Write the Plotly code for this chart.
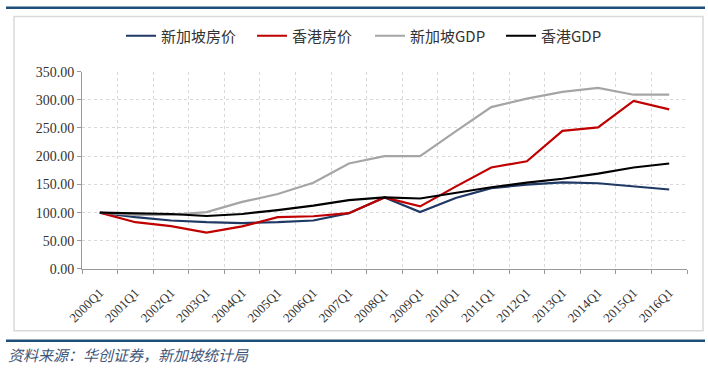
import plotly.graph_objects as go

categories = ["2000Q1", "2001Q1", "2002Q1", "2003Q1", "2004Q1", "2005Q1", "2006Q1",
              "2007Q1", "2008Q1", "2009Q1", "2010Q1", "2011Q1", "2012Q1", "2013Q1",
              "2014Q1", "2015Q1", "2016Q1"]
sg_house = [100, 92, 86, 83, 81.5, 83, 86, 99, 127, 101, 126, 143.5, 149.5, 153.5, 152, 146, 141]
hk_house = [100, 83, 76, 64.5, 75.5, 92, 93.5, 99, 127, 111, 146, 180, 191, 245, 251, 298, 283]
sg_gdp = [100, 96, 96, 101, 119, 133, 153, 187, 200, 200, 244, 287, 302, 314, 321, 309, 309]
hk_gdp = [100, 99, 97.5, 94, 97.5, 104.5, 112.5, 122, 127, 125, 135, 145, 153, 160, 169, 180, 187]

y_ticks = [0, 50, 100, 150, 200, 250, 300, 350]
series_names = ["新加坡房价", "香港房价", "新加坡GDP", "香港GDP"]
series_colors = ["#1F3864", "#C00000", "#A5A5A5", "#000000"]
source_text = "资料来源：华创证券，新加坡统计局"

W, H = 708, 368
L, R, T, B = 82, 21, 68, 99
PW, PH = W - L - R, H - T - B


def px(x):
    return (x - L) / PW


def py(y):
    return (H - B - y) / PH


legend_ids = ["legend", "legend2", "legend3", "legend4"]
legend_left_px = [121, 252, 370, 501]

fig = go.Figure()
for name, vals, col, lid in zip(series_names, [sg_house, hk_house, sg_gdp, hk_gdp],
                                series_colors, legend_ids):
    fig.add_trace(go.Scatter(x=categories, y=vals, name=name, mode="lines",
                             line=dict(color=col, width=2.2), legend=lid))

tick_font = dict(family="Liberation Serif", size=14, color="#333333")
legend_font = dict(family="Noto Sans CJK SC", size=15, color="#333333")

legend_layout = {}
for lid, lx in zip(legend_ids, legend_left_px):
    legend_layout[lid] = dict(orientation="h", xref="container", yref="container",
                              x=lx / W, xanchor="left", y=1 - 36 / H, yanchor="middle",
                              font=legend_font, bgcolor="rgba(0,0,0,0)", itemwidth=30)

fig.update_layout(
    width=W, height=H,
    margin=dict(l=L, r=R, t=T, b=B),
    paper_bgcolor="white", plot_bgcolor="white",
    showlegend=True,
    xaxis=dict(type="category", range=[-0.5, 16.5], tickson="boundaries",
               ticks="outside", ticklen=4, tickcolor="#999999",
               showline=True, linecolor="#999999", linewidth=1,
               showgrid=True, gridcolor="#d9d9d9", griddash="dot", gridwidth=1,
               tickangle=-45, tickfont=dict(family="Liberation Serif", size=13, color="#333333"),
               ticklabelstandoff=10, zeroline=False),
    yaxis=dict(range=[0, 350], tickvals=y_ticks, tickformat=".2f",
               ticks="outside", ticklen=4, tickcolor="#999999",
               showline=True, linecolor="#999999", linewidth=1,
               showgrid=True, gridcolor="#d9d9d9", griddash="dot", gridwidth=1,
               tickfont=tick_font, zeroline=False),
    **legend_layout,
)

shapes = [
    dict(type="rect", xref="paper", yref="paper", x0=px(14), x1=px(703), y0=py(12), y1=py(332),
         line=dict(color="#d9d9d9", width=1.5), fillcolor="rgba(0,0,0,0)", layer="below"),
    dict(type="line", xref="paper", yref="paper", x0=px(6), x1=px(705), y0=py(3), y1=py(3),
         line=dict(color="#1F4E79", width=2.5)),
    dict(type="line", xref="paper", yref="paper", x0=px(6), x1=px(705), y0=py(342), y1=py(342),
         line=dict(color="#1F4E79", width=2.5)),
]
fig.update_layout(shapes=shapes)

fig.add_annotation(xref="paper", yref="paper", x=px(6), y=py(356), xanchor="left", yanchor="middle",
                   text="<i>" + source_text + "</i>", showarrow=False,
                   font=dict(family="Noto Sans CJK SC", size=15, color="#3F5577"))

fig.write_html("out.html", config={"displayModeBar": False},
               post_script="document.body.style.margin='0px';")
